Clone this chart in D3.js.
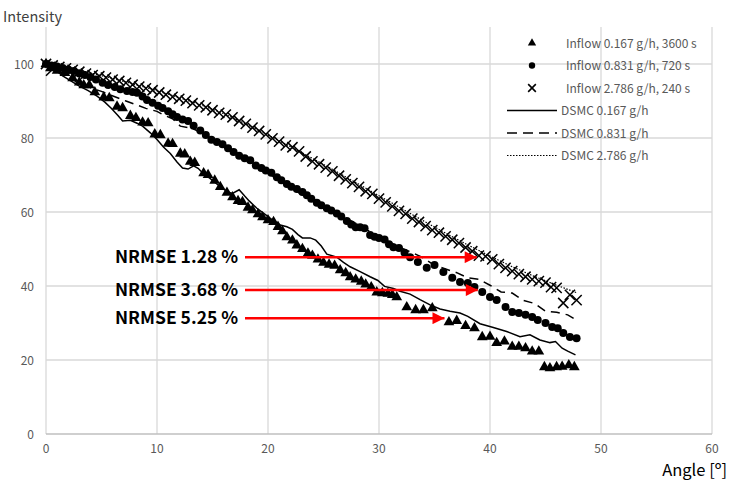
<!DOCTYPE html>
<html>
<head>
<meta charset="utf-8">
<script src="https://cdn.jsdelivr.net/npm/d3@7/dist/d3.min.js"></script>
<style>
  body { margin: 0; background: #fff; }
  svg text { font-family: "Noto Sans CJK KR", "Noto Sans", sans-serif; }
</style>
</head>
<body>
<div id="chart"></div>
<script>
const inflow0167 = [
  [0,100],[0.4,98.9],[1.0,98.2],[1.7,97.6],[2.4,96.2],[3.0,95.0],[3.4,94.3],[3.9,94.3],[4.4,92.4],[5.2,91.0],
  [5.7,90.8],[6.4,88.5],[6.9,88.1],[7.6,86.0],[8.1,85.4],[8.7,84.2],[9.2,84.0],[9.8,81.0],[10.3,80.8],[11.0,78.5],
  [11.4,78.4],[12.1,75.8],[12.5,75.6],[13.0,73.6],[13.4,73.3],[14.2,70.5],[14.6,70.0],[15.2,68.5],[15.7,66.8],[16.3,65.2],
  [16.8,64.0],[17.3,63.0],[17.7,62.7],[18.2,61.2],[18.6,60.5],[19.1,59.4],[19.5,58.6],[20.0,57.8],[20.5,57.3],[20.9,56.0],
  [21.3,54.8],[21.7,53.2],[22.2,52.3],[22.6,51.0],[23.1,50.0],[23.6,48.8],[24.0,48.2],[24.5,47.2],[25.0,46.3],[25.5,45.8],
  [26.0,45.5],[26.5,44.3],[27.0,43.5],[27.4,42.4],[27.9,41.8],[28.4,41.2],[28.8,40.4],[29.3,39.7],[29.8,38.3],[30.3,38.1],
  [30.8,37.9],[31.2,37.6],[31.6,37.0],[32.5,34.3],[33.3,33.5],[34.0,33.5],[34.8,34.0],[36.3,30.2],[37.0,30.6],[37.8,29.2],
  [38.6,28.6],[39.3,26.2],[40.0,26.3],[40.6,24.6],[41.3,25.0],[42.0,23.6],[42.6,23.6],[43.2,23.2],[43.8,22.3],[44.4,22.3],
  [44.9,18.1],[45.4,17.8],[46.0,18.1],[46.5,18.2],[47.1,18.6],[47.6,18.1]
];
const inflow0831 = [
  [0,100],[0.5,99.6],[1.0,99.3],[1.5,98.9],[2.0,98.5],[2.5,98.1],[3.0,97.4],[3.5,97.0],[4.0,96.5],[4.5,95.8],
  [5.1,94.9],[5.6,94.3],[6.2,93.8],[6.7,93.2],[7.3,92.7],[7.8,92.4],[8.2,92.2],[8.7,91.2],[9.1,90.3],[9.6,89.5],
  [10.1,88.7],[10.5,88.1],[11.0,87.2],[11.4,86.4],[11.8,85.7],[12.3,85.0],[12.8,84.6],[13.3,83.3],[13.9,82.0],[14.4,80.8],
  [14.9,79.5],[15.4,78.9],[15.9,78.3],[16.4,77.2],[16.9,76.2],[17.4,75.2],[17.9,74.5],[18.4,74.0],[18.9,72.6],[19.4,71.9],
  [19.8,71.2],[20.3,70.6],[20.8,69.4],[21.2,68.6],[21.7,67.6],[22.1,66.8],[22.6,66.2],[23.1,65.4],[23.5,64.5],[23.9,63.6],
  [24.4,62.5],[24.8,61.8],[25.3,61.0],[25.7,60.4],[26.2,59.6],[26.6,58.8],[27.1,57.6],[27.5,56.6],[27.9,55.9],[28.3,55.9],
  [28.7,55.6],[29.2,53.8],[29.6,53.3],[30.0,53.0],[30.5,52.6],[30.9,51.3],[31.3,50.5],[31.8,50.3],[32.3,49.0],[32.8,47.8],
  [33.5,46.5],[34.3,44.9],[35.0,45.7],[35.8,43.8],[36.6,42.2],[37.3,41.1],[38.0,40.8],[38.6,39.7],[39.3,38.4],[40.0,37.0],
  [40.6,36.2],[41.4,34.3],[42.0,33.0],[42.6,32.7],[43.2,32.2],[43.8,31.6],[44.3,30.8],[45.0,30.0],[45.6,28.9],[46.1,28.6],
  [46.6,27.3],[47.2,26.2],[47.8,25.9]
];
const inflow2786 = [
  [0,100],[0.6,99.6],[1.2,99.2],[1.8,98.8],[2.4,98.4],[3.0,97.9],[3.6,97.4],[4.2,97.0],[4.8,96.7],[5.4,96.3],
  [6.0,95.8],[6.6,95.4],[7.2,94.9],[7.8,94.4],[8.4,93.9],[9.0,93.4],[9.6,92.9],[10.2,92.3],[10.8,91.7],[11.4,91.1],
  [12.0,90.6],[12.6,90.1],[13.2,89.4],[13.8,88.8],[14.4,88.3],[15.0,87.5],[15.6,86.8],[16.2,86.3],[16.8,85.6],[17.4,84.6],
  [18.0,83.8],[18.6,82.8],[19.2,81.9],[19.8,81.0],[20.4,79.9],[21.0,79.0],[21.6,78.0],[22.2,77.5],[22.8,76.4],[23.4,75.0],
  [24.0,73.7],[24.6,72.9],[25.2,72.0],[25.8,71.0],[26.4,69.8],[27.0,68.8],[27.6,67.8],[28.2,66.8],[28.8,65.6],[29.4,64.9],
  [30.0,63.6],[30.6,62.6],[31.2,61.5],[31.8,60.3],[32.4,59.5],[33.0,58.2],[33.6,57.3],[34.2,56.2],[34.8,55.1],[35.4,54.4],
  [36.0,53.4],[36.6,52.5],[37.2,51.6],[37.8,50.4],[38.4,49.4],[39.0,48.2],[39.6,48.0],[40.2,47.2],[40.8,45.9],[41.4,44.9],
  [42.0,44.0],[42.6,43.2],[43.2,42.5],[43.8,41.8],[44.4,41.3],[45.0,40.9],[45.5,39.7],[46.0,39.5],[46.6,35.4],[47.2,37.6],
  [47.8,36.2]
];

// DSMC simulation curves
const dsmc0167 = [
  [0,100],[0.5,99.0],[1.0,98.0],[1.5,96.8],[2.2,95.5],[3.0,94.0],[3.8,92.8],[4.6,91.3],[5.3,89.7],[5.9,88.0],
  [6.5,86.0],[6.9,84.6],[7.6,84.8],[8.2,84.0],[8.7,83.2],[9.4,81.4],[10.0,79.6],[10.6,77.5],[11.2,75.8],[11.8,73.5],
  [12.3,71.9],[12.8,71.6],[13.3,72.5],[13.7,71.8],[14.1,70.6],[14.8,69.0],[15.5,67.3],[16.3,65.5],[16.8,65.0],[17.4,66.0],
  [17.9,64.3],[18.3,63.0],[19.0,61.0],[19.8,59.2],[20.5,57.6],[21.1,56.5],[21.7,56.0],[22.2,55.3],[22.7,53.9],[23.1,53.0],
  [23.8,53.0],[24.3,52.4],[24.8,50.8],[25.3,48.6],[26.2,47.8],[26.8,46.4],[27.4,45.2],[28.3,43.9],[29.2,42.5],[29.9,41.5],
  [30.5,39.9],[31.3,39.3],[31.9,38.6],[32.8,37.8],[33.7,36.3],[34.6,34.9],[35.5,33.8],[36.4,33.2],[37.3,32.7],[38.0,31.8],
  [39.1,29.8],[40.3,28.8],[41.5,27.7],[42.7,26.3],[43.6,26.8],[44.5,25.4],[45.4,24.7],[45.9,25.0],[46.5,23.2],[47.0,22.4],
  [47.7,21.4]
];
const dsmc0831 = [
  [0,96.8],[0.6,98.6],[1.2,98.8],[2.0,96.8],[2.8,95.0],[3.5,94.2],[4.2,93.3],[5.0,92.6],[5.8,91.6],[6.5,90.8],
  [7.2,90.0],[8.2,88.9],[9.0,88.0],[10.0,87.2],[10.6,86.2],[11.4,85.2],[12.1,83.2],[13.2,82.6],[14.0,81.4],[15.0,79.5],
  [16.0,77.6],[17.0,76.0],[18.0,74.4],[19.0,72.4],[20.0,70.6],[21.0,68.5],[22.0,66.6],[23.0,64.8],[24.0,63.0],[25.0,61.8],
  [26.0,60.0],[27.0,58.4],[28.0,56.8],[29.0,55.0],[30.0,53.4],[31.0,51.8],[32.0,50.3],[33.0,49.0],[34.0,47.6],[35.0,45.6],
  [36.0,44.6],[37.0,43.6],[38.0,42.2],[39.0,41.8],[40.0,40.2],[41.0,38.4],[42.0,38.1],[43.0,36.1],[44.0,35.3],[45.0,33.2],
  [46.0,32.9],[47.0,32.2],[47.8,30.8]
];
const dsmc2786 = [
  [0,100],[2,99.1],[4,97.6],[6,96.1],[8,94.5],[10,92.8],[12,90.9],[14,88.9],[16,86.6],[18,83.8],
  [20,80.8],[22,77.7],[24,74.5],[26,71.2],[28,67.8],[30,64.4],[32,61.0],[34,57.6],[36,54.3],[38,51.1],
  [40,48.1],[42,45.2],[44,42.6],[46,40.2],[47.8,38.2]
];

// Axis ticks
const xTicks = [0, 10, 20, 30, 40, 50, 60];
const yTicks = [0, 20, 40, 60, 80, 100];

// NRMSE annotations: label, arrow y value, arrow tip angle
const nrmseLabels = ['NRMSE 1.28 %', 'NRMSE 3.68 %', 'NRMSE 5.25 %'];
const nrmseArrowY = [47.8, 38.9, 31.3];
const nrmseArrowEnd = [38.8, 38.9, 35.9];

const legendLabels = [
  'Inflow 0.167 g/h, 3600 s', 'Inflow 0.831 g/h, 720 s', 'Inflow 2.786 g/h, 240 s',
  'DSMC 0.167 g/h', 'DSMC 0.831 g/h', 'DSMC 2.786 g/h'
];

const W = 729, H = 481;
const plot = { left: 46, right: 712, top: 27, bottom: 434 };

const svg = d3.select('#chart').append('svg')
  .attr('width', W).attr('height', H);

const x = d3.scaleLinear().domain([0, 60]).range([plot.left, plot.right]);
const y = d3.scaleLinear().domain([0, 110]).range([plot.bottom, plot.top]);

// Grid lines
svg.append('g').selectAll('line').data(xTicks).join('line')
  .attr('x1', d => x(d)).attr('x2', d => x(d))
  .attr('y1', plot.top).attr('y2', plot.bottom)
  .attr('stroke', '#d9d9d9').attr('stroke-width', 1.3);
svg.append('g').selectAll('line').data(yTicks).join('line')
  .attr('x1', plot.left).attr('x2', plot.right)
  .attr('y1', d => y(d)).attr('y2', d => y(d))
  .attr('stroke', d => d === 0 ? '#bfbfbf' : '#d9d9d9').attr('stroke-width', 1.3);

// Tick labels
svg.append('g').selectAll('text').data(yTicks).join('text')
  .attr('x', 34).attr('y', d => y(d) + 4.5)
  .attr('text-anchor', 'end').attr('font-size', 12).attr('fill', '#595959')
  .text(d => d);
svg.append('g').selectAll('text').data(xTicks).join('text')
  .attr('x', d => x(d)).attr('y', 453)
  .attr('text-anchor', 'middle').attr('font-size', 12).attr('fill', '#595959')
  .text(d => d);

// Axis titles
svg.append('text').attr('x', 3).attr('y', 22)
  .attr('font-size', 14.5).attr('fill', '#404040').text('Intensity');
svg.append('text').attr('x', 727).attr('y', 476)
  .attr('text-anchor', 'end').attr('font-size', 16.5).attr('fill', '#000').text('Angle [º]');

// DSMC lines
const line = d3.line().x(d => x(d[0])).y(d => y(d[1]));
svg.append('path').datum(dsmc0167).attr('d', line)
  .attr('fill', 'none').attr('stroke', '#000').attr('stroke-width', 1.5);
svg.append('path').datum(dsmc0831).attr('d', line)
  .attr('fill', 'none').attr('stroke', '#000').attr('stroke-width', 1.5)
  .attr('stroke-dasharray', '9,6');
svg.append('path').datum(dsmc2786).attr('d', line)
  .attr('fill', 'none').attr('stroke', '#000').attr('stroke-width', 1.2)
  .attr('stroke-dasharray', '1.5,1.5');

// Markers
const triangle = d3.symbol().type(d3.symbolTriangle).size(50);
const cross = d3.symbol().type(d3.symbolX).size(70);

svg.append('g').selectAll('path').data(inflow0167).join('path')
  .attr('transform', d => `translate(${x(d[0])},${y(d[1])})`)
  .attr('d', triangle).attr('fill', '#000');
svg.append('g').selectAll('circle').data(inflow0831).join('circle')
  .attr('cx', d => x(d[0])).attr('cy', d => y(d[1])).attr('r', 4)
  .attr('fill', '#000');
svg.append('g').selectAll('path').data(inflow2786).join('path')
  .attr('transform', d => `translate(${x(d[0])},${y(d[1])})`)
  .attr('d', cross).attr('fill', 'none').attr('stroke', '#000').attr('stroke-width', 1.5);

// NRMSE arrows
const defs = svg.append('defs');
defs.append('marker').attr('id', 'arrow')
  .attr('viewBox', '0 0 10 10').attr('refX', 10).attr('refY', 5)
  .attr('markerWidth', 5.6).attr('markerHeight', 4.8).attr('orient', 'auto')
  .attr('markerUnits', 'strokeWidth')
  .append('path').attr('d', 'M0,0 L10,5 L0,10 Z').attr('fill', '#ff0000');

const ann = svg.append('g');
nrmseLabels.forEach((lab, i) => {
  const yy = y(nrmseArrowY[i]);
  ann.append('line')
    .attr('x1', 245).attr('x2', x(nrmseArrowEnd[i]))
    .attr('y1', yy).attr('y2', yy)
    .attr('stroke', '#ff0000').attr('stroke-width', 2.5)
    .attr('marker-end', 'url(#arrow)');
  ann.append('text').attr('x', 115).attr('y', yy + 6)
    .attr('font-size', 17.5).attr('font-weight', 'bold').attr('fill', '#000')
    .text(lab);
});

// Legend
const legendY = [43, 65.5, 88, 110.5, 133, 155.5];
const lg = svg.append('g');
lg.append('path').attr('transform', `translate(532,${legendY[0]})`)
  .attr('d', d3.symbol().type(d3.symbolTriangle).size(30)).attr('fill', '#000');
lg.append('circle').attr('cx', 532).attr('cy', legendY[1]).attr('r', 3.2).attr('fill', '#000');
lg.append('path').attr('transform', `translate(532,${legendY[2]})`)
  .attr('d', d3.symbol().type(d3.symbolX).size(40))
  .attr('fill', 'none').attr('stroke', '#000').attr('stroke-width', 1.6);
lg.append('line').attr('x1', 507).attr('x2', 557).attr('y1', legendY[3]).attr('y2', legendY[3])
  .attr('stroke', '#000').attr('stroke-width', 1.5);
lg.append('line').attr('x1', 507).attr('x2', 557).attr('y1', legendY[4]).attr('y2', legendY[4])
  .attr('stroke', '#000').attr('stroke-width', 1.5).attr('stroke-dasharray', '10,6');
lg.append('line').attr('x1', 507).attr('x2', 557).attr('y1', legendY[5]).attr('y2', legendY[5])
  .attr('stroke', '#000').attr('stroke-width', 1).attr('stroke-dasharray', '1.5,1.5');
lg.selectAll('text').data(legendLabels).join('text')
  .attr('x', (d, i) => i < 3 ? 566 : 561)
  .attr('y', (d, i) => legendY[i] + 4.5)
  .attr('font-size', 12).attr('fill', '#595959')
  .text(d => d);
</script>
</body>
</html>
